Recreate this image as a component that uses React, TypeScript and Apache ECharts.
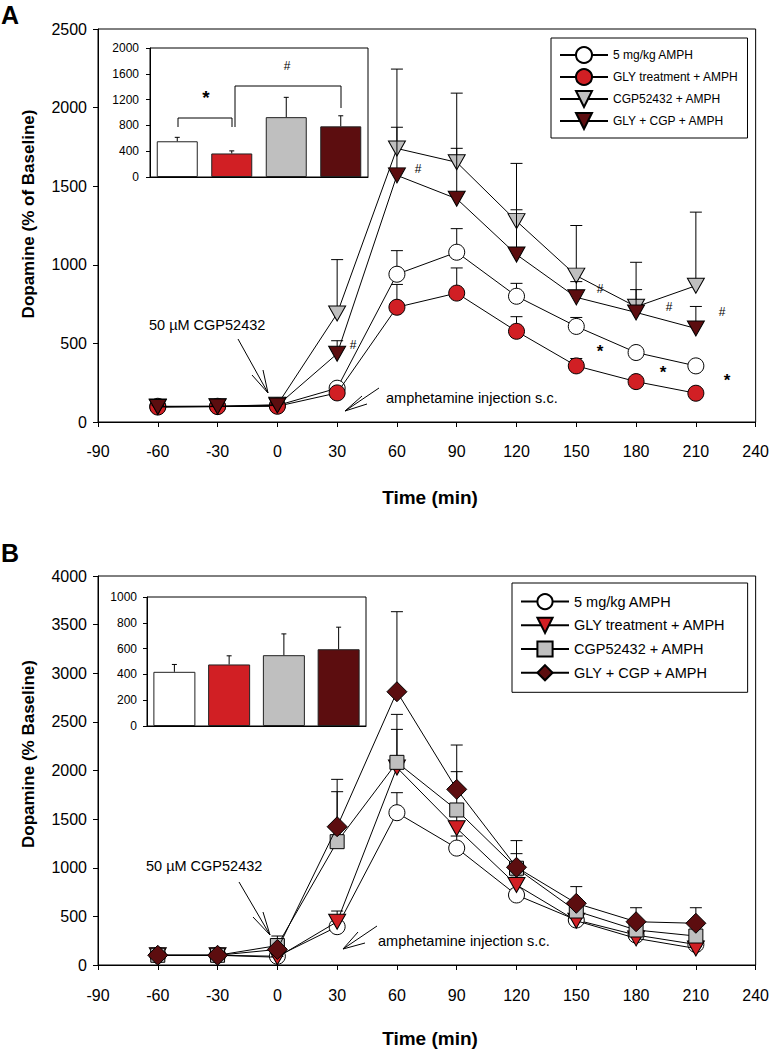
import React, { useEffect, useRef } from "react";
import * as echarts from "echarts";

const FONT = '"Liberation Sans", Arial, Helvetica, sans-serif';

// ---------- shared ----------
const timePoints = [-60, -30, 0, 30, 60, 90, 120, 150, 180, 210];
const xMin = -90;
const xMax = 240;
const xStep = 30;
const groupNames = ["5 mg/kg AMPH", "GLY treatment + AMPH", "CGP52432 + AMPH", "GLY + CGP + AMPH"];

// ---------- panel A ----------
const yMaxA = 2500;
const yStepA = 500;
const amphA = [100, 100, 105, 215, 940, 1080, 800, 608, 442, 357];
const amphAErr = [8, 8, 8, 20, 150, 150, 82, 57, 20, 15];
const glyA = [95, 98, 100, 185, 730, 820, 577, 357, 257, 183];
const glyAErr = [8, 8, 8, 15, 145, 160, 93, 47, 15, 10];
const cgpA = [98, 100, 110, 690, 1740, 1652, 1278, 931, 733, 867];
const cgpAErr = [8, 8, 8, 343, 505, 440, 367, 319, 283, 468];
const glyCgpA = [96, 98, 105, 434, 1569, 1420, 1065, 793, 697, 595];
const glyCgpAErr = [8, 8, 8, 83, 306, 321, 285, 100, 145, 140];
const insetMaxA = 2000;
const insetStepA = 400;
const insetAMeans = [554, 365, 928, 785];
const insetAErr = [61, 40, 307, 164];

// ---------- panel B ----------
const yMaxB = 4000;
const yStepB = 500;
const amphB = [100, 100, 90, 394, 1566, 1202, 720, 463, 308, 211];
const amphBErr = [8, 8, 8, 40, 206, 124, 60, 40, 30, 20];
const glyB = [100, 100, 80, 445, 2030, 1406, 823, 455, 274, 170];
const glyBErr = [8, 8, 8, 110, 393, 150, 80, 50, 30, 20];
const cgpB = [100, 100, 200, 1268, 2084, 1594, 995, 555, 360, 298];
const cgpBErr = [8, 8, 98, 514, 493, 394, 150, 120, 80, 60];
const glyCgpB = [100, 100, 160, 1422, 2810, 1806, 1005, 634, 445, 429];
const glyCgpBErr = [8, 8, 30, 487, 823, 456, 274, 172, 144, 160];
const insetMaxB = 1000;
const insetStepB = 200;
const insetBMeans = [420, 477, 549, 595];
const insetBErr = [57, 67, 165, 171];

const WHITE = "#ffffff";
const RED = "#d11f24";
const GRAY = "#bfbfbf";
const DARK = "#5c0d0f";
const groupColors = [WHITE, RED, GRAY, DARK];

type Group = {
  name: string;
  values: number[];
  errs: number[];
  symbol: string;
  size: number | number[];
  rotate: number;
  color: string;
};

function errRender(cap: number) {
  return (_params: any, api: any) => {
    const base = api.coord([api.value(0), api.value(1)]);
    const top = api.coord([api.value(0), api.value(2)]);
    return {
      type: "group",
      children: [
        { type: "line", shape: { x1: base[0], y1: base[1], x2: top[0], y2: top[1] }, style: { stroke: "#000", lineWidth: 1 } },
        { type: "line", shape: { x1: top[0] - cap, y1: top[1], x2: top[0] + cap, y2: top[1] }, style: { stroke: "#000", lineWidth: 1 } },
      ],
    };
  };
}

const plainNum = (v: number) => String(v);

function buildOption(cfg: any) {
  const oy = cfg.oy;
  const txt = (x: number, y: number, text: string, size: number, o: any = {}) => ({
    type: "text",
    x,
    y: y - oy,
    rotation: o.rot || 0,
    z: 50,
    silent: true,
    style: {
      text,
      fill: "#000",
      fontSize: size,
      fontFamily: FONT,
      fontWeight: o.bold ? "bold" : "normal",
      textAlign: o.align || "center",
      textVerticalAlign: "middle",
      align: o.align || "center",
      verticalAlign: "middle",
    },
  });
  const seg = (x1: number, y1: number, x2: number, y2: number) => ({
    type: "line",
    z: 50,
    silent: true,
    shape: { x1, y1: y1 - oy, x2, y2: y2 - oy },
    style: { stroke: "#000", lineWidth: 1 },
  });
  const poly = (pts: number[][]) => ({
    type: "polyline",
    z: 50,
    silent: true,
    shape: { points: pts.map((p) => [p[0], p[1] - oy]) },
    style: { stroke: "#000", lineWidth: 1, fill: "none" },
  });

  const groups: Group[] = cfg.groups;
  const series: any[] = [];
  groups.forEach((g, i) => {
    series.push({
      type: "custom",
      name: "err" + i,
      xAxisIndex: 0,
      yAxisIndex: 0,
      z: 2 + 2 * i,
      silent: true,
      encode: { x: 0, y: 1 },
      data: g.values.map((v, k) => [timePoints[k], v, v + g.errs[k]]),
      renderItem: errRender(6),
    });
    series.push({
      type: "line",
      name: g.name,
      xAxisIndex: 0,
      yAxisIndex: 0,
      z: 3 + 2 * i,
      data: g.values.map((v, k) => [timePoints[k], v]),
      symbol: g.symbol,
      symbolSize: g.size,
      symbolRotate: g.rotate,
      showAllSymbol: true,
      itemStyle: { color: g.color, borderColor: "#000", borderWidth: 1, opacity: 1 },
      lineStyle: { color: "#000", width: 1 },
      emphasis: { disabled: true },
    });
  });
  series.push({
    type: "bar",
    name: "insetBars",
    xAxisIndex: 1,
    yAxisIndex: 1,
    z: 2,
    barWidth: cfg.barWidth,
    data: cfg.insetMeans.map((v: number, i: number) => ({
      value: v,
      itemStyle: { color: groupColors[i], borderColor: "#222", borderWidth: 1 },
    })),
    emphasis: { disabled: true },
  });
  series.push({
    type: "custom",
    name: "insetErr",
    xAxisIndex: 1,
    yAxisIndex: 1,
    z: 3,
    silent: true,
    encode: { x: 0, y: 1 },
    data: cfg.insetMeans.map((v: number, i: number) => [i, v, v + cfg.insetErrs[i]]),
    renderItem: errRender(2.5),
  });

  const axisLine = { show: true, onZero: false, lineStyle: { color: "#000", width: 1 } };
  const graphics: any[] = [
    txt(10, cfg.letterY, cfg.letter, 25, { bold: true }),
    txt(28, cfg.yTitleY, cfg.yTitle, 17, { bold: true, rot: Math.PI / 2 }),
    txt(430, cfg.xTitleY, "Time (min)", 19, { bold: true }),
    ...cfg.texts.map((t: any) => txt(t[0], t[1], t[2], t[3], t[4] || {})),
    ...cfg.segs.map((s: number[]) => seg(s[0], s[1], s[2], s[3])),
    ...cfg.polys.map((p: number[][]) => poly(p)),
  ];

  return {
    animation: false,
    backgroundColor: "transparent",
    textStyle: { fontFamily: FONT },
    grid: [
      {
        left: 98,
        top: cfg.main.top - oy,
        width: 660,
        height: cfg.main.h,
        show: true,
        borderColor: "#000",
        borderWidth: 1,
        backgroundColor: "transparent",
      },
      {
        left: cfg.inset.left,
        top: cfg.inset.top - oy,
        width: cfg.inset.w,
        height: cfg.inset.h,
        show: true,
        borderColor: "#000",
        borderWidth: 1,
        backgroundColor: "#fff",
      },
    ],
    xAxis: [
      {
        type: "value",
        gridIndex: 0,
        min: xMin,
        max: xMax,
        interval: xStep,
        axisLine,
        axisTick: { show: true, inside: false, length: 5, lineStyle: { color: "#000" } },
        splitLine: { show: false },
        axisLabel: {
          color: "#000",
          fontSize: 16,
          fontFamily: FONT,
          margin: cfg.xLabelMargin,
          showMinLabel: true,
          showMaxLabel: true,
          formatter: plainNum,
        },
      },
      {
        type: "category",
        gridIndex: 1,
        data: groupNames,
        axisLine,
        axisTick: { show: false },
        axisLabel: { show: false },
        splitLine: { show: false },
      },
    ],
    yAxis: [
      {
        type: "value",
        gridIndex: 0,
        min: 0,
        max: cfg.yMax,
        interval: cfg.yStep,
        axisLine,
        axisTick: { show: true, inside: false, length: 5, lineStyle: { color: "#000" } },
        splitLine: { show: false },
        axisLabel: { color: "#000", fontSize: 16, fontFamily: FONT, margin: 11, showMinLabel: true, showMaxLabel: true, formatter: plainNum },
      },
      {
        type: "value",
        gridIndex: 1,
        min: 0,
        max: cfg.insetMax,
        interval: cfg.insetStep,
        axisLine,
        axisTick: { show: true, inside: false, length: 4, lineStyle: { color: "#000" } },
        splitLine: { show: false },
        axisLabel: {
          color: "#000",
          fontSize: 12,
          fontFamily: FONT,
          margin: cfg.insetLabelMargin,
          showMinLabel: true,
          showMaxLabel: true,
          formatter: plainNum,
        },
      },
    ],
    legend: {
      left: cfg.legend.left,
      top: cfg.legend.top - oy,
      orient: "vertical",
      selectedMode: false,
      backgroundColor: "#fff",
      borderColor: "#000",
      borderWidth: 1,
      borderRadius: 0,
      padding: cfg.legend.padding,
      itemWidth: 48,
      itemHeight: cfg.legend.itemHeight,
      itemGap: cfg.legend.itemGap,
      textStyle: { fontSize: cfg.legend.fontSize, fontFamily: FONT, color: "#000" },
      data: groupNames,
    },
    graphic: { elements: graphics },
    series,
  };
}

const optionA = buildOption({
  oy: 0,
  main: { top: 29, h: 393 },
  inset: { left: 150, top: 48, w: 218, h: 129 },
  barWidth: 41,
  insetLabelMargin: 11,
  xLabelMargin: 21,
  yMax: yMaxA,
  yStep: yStepA,
  insetMax: insetMaxA,
  insetStep: insetStepA,
  insetMeans: insetAMeans,
  insetErrs: insetAErr,
  letter: "A",
  letterY: 15,
  yTitle: "Dopamine (% of Baseline)",
  yTitleY: 214,
  xTitleY: 497,
  legend: { left: 551, top: 38, padding: [8, 9, 8, 8], itemHeight: 20, itemGap: 4, fontSize: 12 },
  groups: [
    { name: groupNames[0], values: amphA, errs: amphAErr, symbol: "circle", size: 16, rotate: 0, color: WHITE },
    { name: groupNames[1], values: glyA, errs: glyAErr, symbol: "circle", size: 16, rotate: 0, color: RED },
    { name: groupNames[2], values: cgpA, errs: cgpAErr, symbol: "triangle", size: [17, 15], rotate: 180, color: GRAY },
    { name: groupNames[3], values: glyCgpA, errs: glyCgpAErr, symbol: "triangle", size: [17, 15], rotate: 180, color: DARK },
  ],
  texts: [
    [149, 325, "50 \u00b5M CGP52432", 14.5, { align: "left" }],
    [386, 398, "amphetamine injection s.c.", 14.5, { align: "left" }],
    [418, 169, "#", 12],
    [353, 345, "#", 12],
    [600, 289, "#", 12],
    [669, 307, "#", 12],
    [722, 312, "#", 12],
    [600, 351, "*", 17, { bold: true }],
    [663, 372, "*", 17, { bold: true }],
    [727, 380, "*", 17, { bold: true }],
    [206, 97, "*", 19, { bold: true }],
    [287, 66, "#", 12],
  ],
  segs: [
    [238, 339, 268, 393],
    [268, 393, 263, 370],
    [268, 393, 252, 375],
    [379, 388, 345, 411],
    [345, 411, 367, 404],
    [345, 411, 362, 396],
  ],
  polys: [
    [[178, 127], [178, 118], [232, 118], [232, 127]],
    [[235, 127], [235, 86], [341, 86], [341, 108]],
  ],
});

const optionB = buildOption({
  oy: 525,
  main: { top: 576, h: 389 },
  inset: { left: 147, top: 597, w: 219, h: 129 },
  barWidth: 42,
  insetLabelMargin: 10,
  xLabelMargin: 22,
  yMax: yMaxB,
  yStep: yStepB,
  insetMax: insetMaxB,
  insetStep: insetStepB,
  insetMeans: insetBMeans,
  insetErrs: insetBErr,
  letter: "B",
  letterY: 553,
  yTitle: "Dopamine (% Baseline)",
  yTitleY: 754,
  xTitleY: 1038,
  legend: { left: 512, top: 583, padding: [10, 22, 11, 8], itemHeight: 19, itemGap: 6.5, fontSize: 14.5 },
  groups: [
    { name: groupNames[0], values: amphB, errs: amphBErr, symbol: "circle", size: 16, rotate: 0, color: WHITE },
    { name: groupNames[1], values: glyB, errs: glyBErr, symbol: "triangle", size: [17, 15], rotate: 180, color: RED },
    { name: groupNames[2], values: cgpB, errs: cgpBErr, symbol: "rect", size: 14, rotate: 0, color: GRAY },
    { name: groupNames[3], values: glyCgpB, errs: glyCgpBErr, symbol: "diamond", size: [20, 20], rotate: 0, color: DARK },
  ],
  texts: [
    [146, 866, "50 \u00b5M CGP52432", 14.5, { align: "left" }],
    [378, 941, "amphetamine injection s.c.", 14.5, { align: "left" }],
  ],
  segs: [
    [239, 882, 270, 935],
    [270, 935, 253, 917],
    [270, 935, 263, 912],
    [377, 926, 343, 949],
    [343, 949, 365, 943],
    [343, 949, 358, 932],
  ],
  polys: [],
});

export default function App() {
  const refA = useRef<HTMLDivElement>(null);
  const refB = useRef<HTMLDivElement>(null);
  useEffect(() => {
    const a = echarts.init(refA.current as HTMLDivElement, undefined, { renderer: "svg" });
    a.setOption(optionA as any);
    const b = echarts.init(refB.current as HTMLDivElement, undefined, { renderer: "svg" });
    b.setOption(optionB as any);
    return () => {
      a.dispose();
      b.dispose();
    };
  }, []);
  return (
    <div style={{ position: "absolute", left: 0, top: 0, width: 772, height: 1050, background: "#fff" }}>
      <div ref={refA} style={{ position: "absolute", left: 0, top: 0, width: 772, height: 525 }} />
      <div ref={refB} style={{ position: "absolute", left: 0, top: 525, width: 772, height: 525 }} />
    </div>
  );
}
